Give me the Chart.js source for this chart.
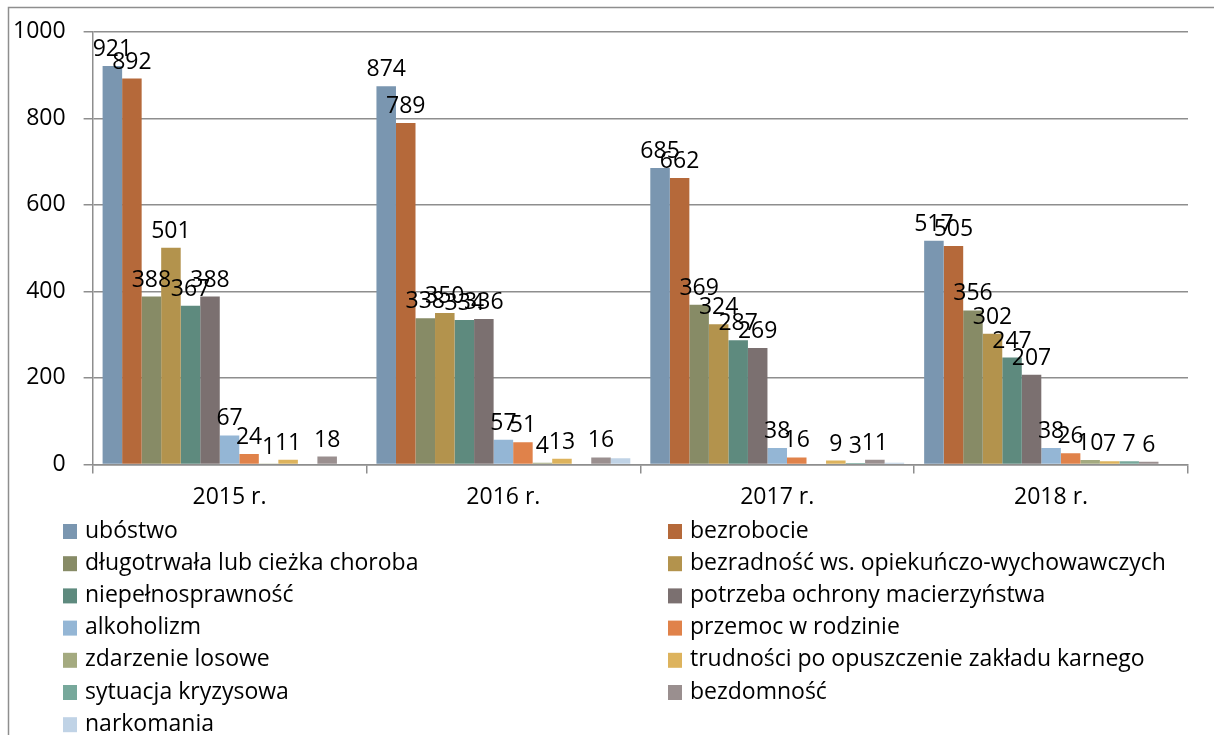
<!DOCTYPE html>
<html>
<head>
<meta charset="utf-8">
<script src="https://cdn.jsdelivr.net/npm/chart.js@4"></script>
<style>
  html, body { margin: 0; padding: 0; background: #fff; }
  #wrap { width: 1214px; height: 735px; }
</style>
</head>
<body>
<div id="wrap"><canvas id="chart" width="1214" height="735"></canvas></div>
<script>
const years = ["2015 r.", "2016 r.", "2017 r.", "2018 r."];
const yTicks = [0, 200, 400, 600, 800, 1000];

const seriesNames = [
  "ubóstwo", "bezrobocie", "długotrwała lub cieżka choroba", "bezradność ws. opiekuńczo-wychowawczych",
  "niepełnosprawność", "potrzeba ochrony macierzyństwa", "alkoholizm", "przemoc w rodzinie",
  "zdarzenie losowe", "trudności po opuszczenie zakładu karnego", "sytuacja kryzysowa", "bezdomność", "narkomania"
];
const seriesColors = [
  "#7A96B0", "#B5693A", "#878B66", "#B3934D", "#5E8A7E", "#7B7070", "#94B6D5",
  "#E0824A", "#A4AA80", "#DDB35D", "#77A89B", "#9A8F8F", "#C0D3E6"
];

// one array per series, values for 2015..2018
const ubostwo        = [921, 874, 685, 517];
const bezrobocie     = [892, 789, 662, 505];
const choroba        = [388, 338, 369, 356];
const bezradnosc     = [501, 350, 324, 302];
const niepelnospr    = [367, 334, 287, 247];
const macierzynstwo  = [388, 336, 269, 207];
const alkoholizm     = [67, 57, 38, 38];
const przemoc        = [24, 51, 16, 26];
const zdarzenie      = [1, 4, 0, 10];
const trudnosci      = [11, 13, 9, 7];
const kryzys         = [0, 0, 3, 7];
const bezdomnosc     = [18, 16, 11, 6];
const narkomania     = [0, 14, 4, 0];

const seriesValues = [ubostwo, bezrobocie, choroba, bezradnosc, niepelnospr, macierzynstwo,
  alkoholizm, przemoc, zdarzenie, trudnosci, kryzys, bezdomnosc, narkomania];
const unlabelled = ["narkomania"];

const FONT = "'Open Sans', sans-serif";
const FSIZE = 23;
const GRID = "#8E8E8E";

const chromePlugin = {
  id: "chrome",
  beforeDraw(chart) {
    const ctx = chart.ctx;
    ctx.save();
    ctx.strokeStyle = GRID;
    ctx.lineWidth = 1.5;
    ctx.strokeRect(8.5, 7.5, 1300, 900);
    ctx.restore();
  },
  afterDatasetsDraw(chart) {
    const ctx = chart.ctx;
    ctx.save();
    ctx.font = FSIZE + "px " + FONT;
    ctx.fillStyle = "#000";
    ctx.textAlign = "center";
    ctx.textBaseline = "alphabetic";
    chart.data.datasets.forEach((ds, i) => {
      if (unlabelled.includes(ds.label)) return;
      chart.getDatasetMeta(i).data.forEach((bar, j) => {
        const v = ds.data[j];
        if (!v) return;
        ctx.fillText(String(v), bar.x, bar.y - 10);
      });
    });
    ctx.restore();
  },
  afterDraw(chart) {
    const ctx = chart.ctx;
    ctx.save();
    ctx.font = FSIZE + "px " + FONT;
    ctx.textBaseline = "middle";
    ctx.textAlign = "left";
    chart.data.datasets.forEach((ds, i) => {
      const x = i % 2 === 0 ? 63 : 668;
      const y = 531 + Math.floor(i / 2) * 32.2;
      ctx.fillStyle = ds.backgroundColor;
      ctx.fillRect(x, y - 7, 14, 15);
      ctx.fillStyle = "#000";
      ctx.fillText(ds.label, x + 22, y);
    });
    ctx.restore();
  }
};

new Chart(document.getElementById("chart"), {
  type: "bar",
  data: {
    labels: years,
    datasets: seriesNames.map((name, i) => ({
      label: name,
      data: seriesValues[i],
      backgroundColor: seriesColors[i],
      borderWidth: 0,
      categoryPercentage: 0.927,
      barPercentage: 1
    }))
  },
  options: {
    responsive: false,
    animation: false,
    layout: { padding: { left: -5, right: 26, top: 20, bottom: 214 } },
    plugins: { legend: { display: false }, tooltip: { enabled: false } },
    scales: {
      x: {
        grid: { offset: true, drawOnChartArea: false, drawTicks: true, tickLength: 9, color: GRID, lineWidth: 1.5 },
        border: { display: true, color: GRID, width: 1.5 },
        ticks: { color: "#000", font: { family: FONT, size: FSIZE }, padding: 10 }
      },
      y: {
        min: 0,
        max: 1000,
        afterBuildTicks(axis) { axis.ticks = yTicks.map(v => ({ value: v })); },
        grid: { color: GRID, lineWidth: 1.5, tickLength: 9 },
        border: { display: true, color: GRID, width: 1.5 },
        ticks: { color: "#000", font: { family: FONT, size: FSIZE }, padding: 18, callback: v => String(v) }
      }
    }
  },
  plugins: [chromePlugin]
});
</script>
</body>
</html>
